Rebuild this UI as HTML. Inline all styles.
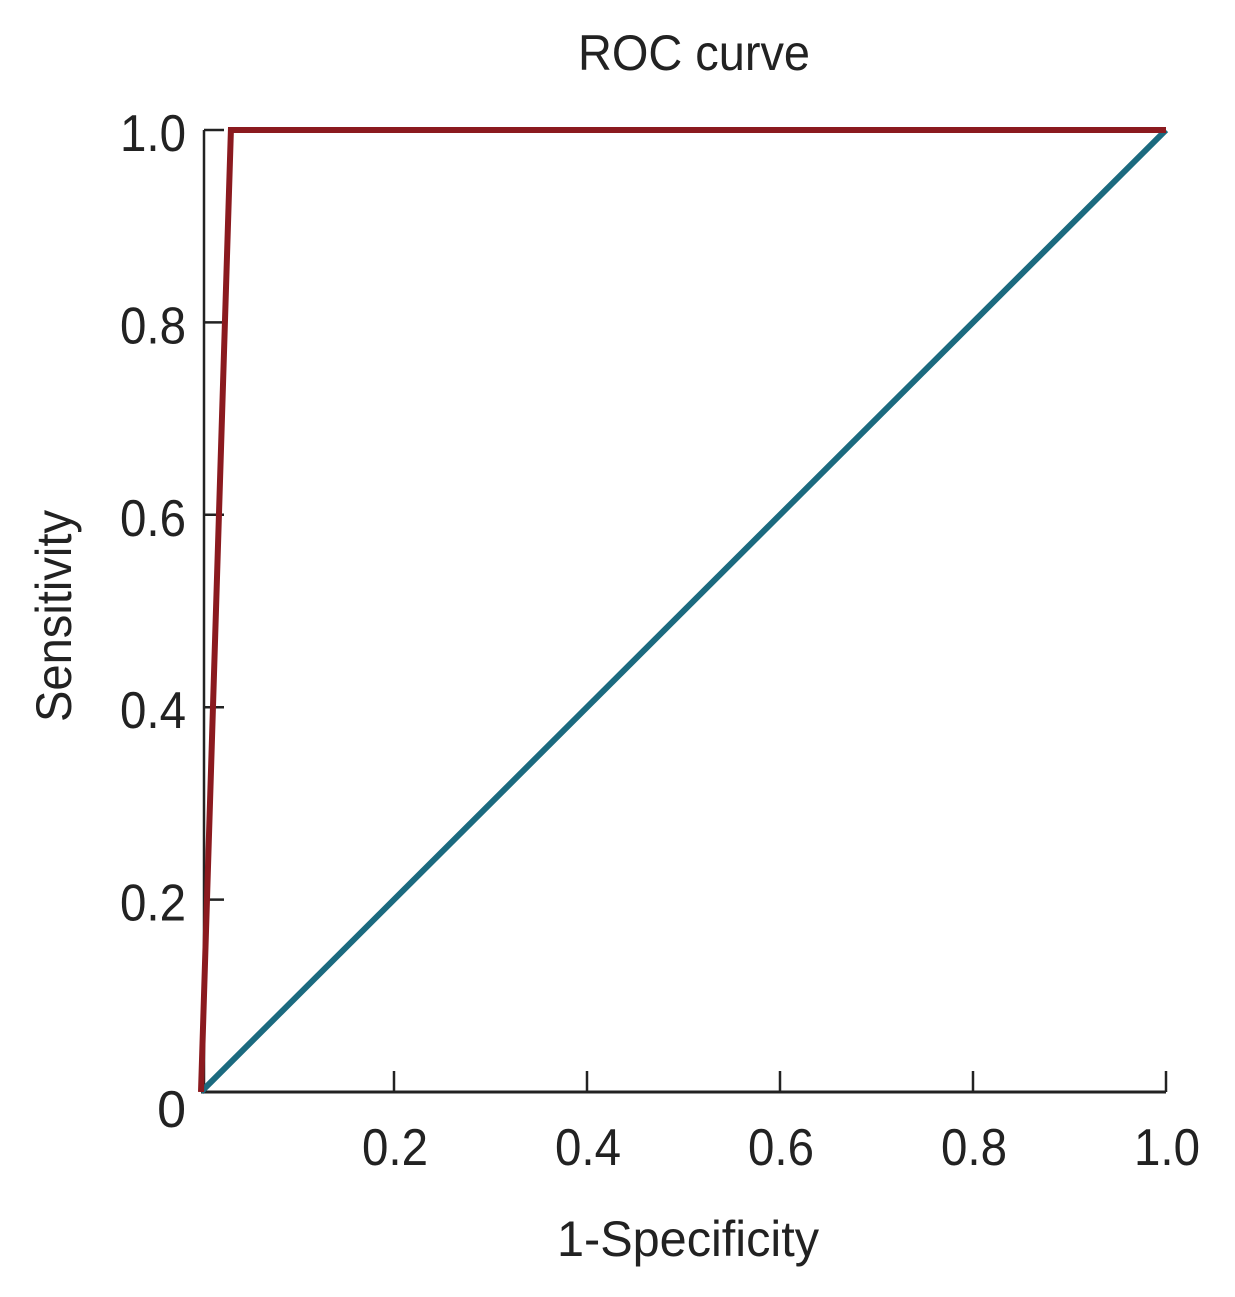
<!DOCTYPE html>
<html><head><meta charset="utf-8"><style>
body{margin:0;background:#fff}
svg{display:block;font-family:"Liberation Sans",sans-serif}
</style></head><body>
<svg width="1235" height="1297">
<g id="axes"></g>
<g id="marks"></g>
<text x="694" y="70" font-size="50" text-anchor="middle" fill="#222" textLength="232" lengthAdjust="spacingAndGlyphs">ROC curve</text>
<text x="688" y="1256" font-size="50" text-anchor="middle" fill="#222" textLength="262" lengthAdjust="spacingAndGlyphs">1-Specificity</text>
<text transform="translate(71,616) rotate(-90)" font-size="50" text-anchor="middle" fill="#222" textLength="212" lengthAdjust="spacingAndGlyphs">Sensitivity</text>
</svg>
<script>
const xTicks=[0.2,0.4,0.6,0.8,1.0];
const xTickLabels=["0.2","0.4","0.6","0.8","1.0"];
const yTicks=[0,0.2,0.4,0.6,0.8,1.0];
const yTickLabels=["0","0.2","0.4","0.6","0.8","1.0"];
const rocFpr=[0,0.031,1];
const rocTpr=[0,1,1];
const refFpr=[0,1];
const refTpr=[0,1];
const NS="http://www.w3.org/2000/svg";
const X=v=>201+v*965, Y=v=>1092-v*962;
function mk(tag,attrs,parent,text){const e=document.createElementNS(NS,tag);for(const k in attrs)e.setAttribute(k,attrs[k]);if(text!==undefined)e.textContent=text;parent.appendChild(e);return e;}
const axes=document.getElementById('axes'), marks=document.getElementById('marks');
let e=mk('line',{x1:204,y1:Y(1),x2:204,y2:1092,stroke:'#222','stroke-width':2.5},axes);


e=mk('line',{x1:201,y1:1092,x2:1166,y2:1092,stroke:'#222','stroke-width':3},axes);


xTicks.forEach((t,i)=>{
 let l=mk('line',{x1:X(t),y1:1092,x2:X(t),y2:1071,stroke:'#222','stroke-width':2.5},axes);
 
 
 let tx=mk('text',{x:X(t)+1,y:1165,'font-size':52,'text-anchor':'middle',fill:'#222',textLength:66,lengthAdjust:'spacingAndGlyphs'},axes,xTickLabels[i]);
 
 
});
yTicks.forEach((t,i)=>{
 if(t>0){let l=mk('line',{x1:204,y1:Y(t),x2:224,y2:Y(t),stroke:'#222','stroke-width':2.5},axes);
 
 }
 let attrs={x:186,y:t===0?1127:Y(t)+21,'font-size':52,'text-anchor':'end',fill:'#222'};
 if(t>0){attrs.textLength=66;attrs.lengthAdjust='spacingAndGlyphs';}
 let tx=mk('text',attrs,axes,yTickLabels[i]);
 
 
});
let p=mk('polyline',{points:refFpr.map((v,i)=>X(v)+','+Y(refTpr[i])).join(' '),fill:'none',stroke:'#1b6a7f','stroke-width':6},marks);


p=mk('polyline',{points:rocFpr.map((v,i)=>X(v)+','+Y(rocTpr[i])).join(' '),fill:'none',stroke:'#8b1a1f','stroke-width':6,'stroke-linejoin':'miter'},marks);


</script>
</body></html>
